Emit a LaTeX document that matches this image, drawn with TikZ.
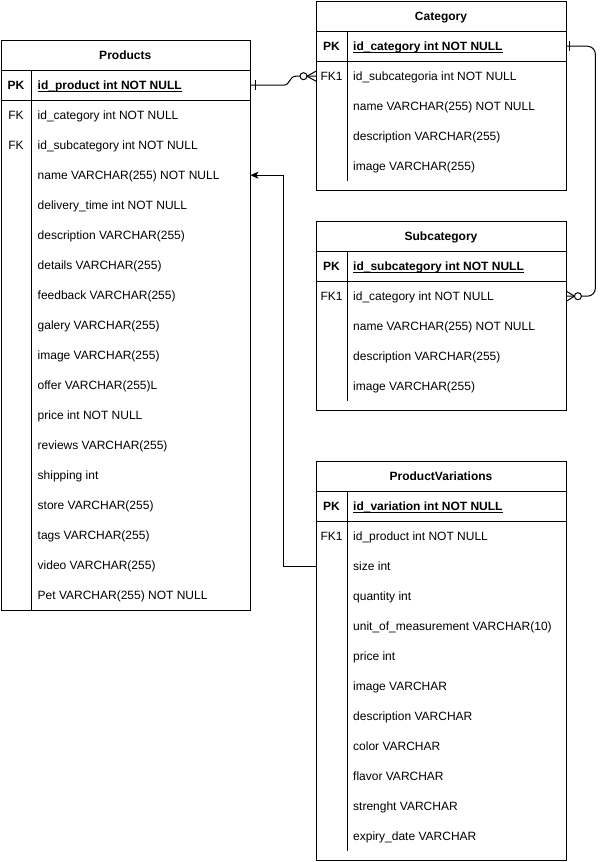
\documentclass[tikz,border=0pt]{standalone}
\usepackage{fontspec}
\setmainfont{Liberation Sans}
\usetikzlibrary{calc,arrows.meta}
\newcommand\erfont{\fontsize{12}{14}\selectfont}
\tikzset{
  tbl/.style={draw, line width=1pt, inner sep=0pt, anchor=north west},
  rowbox/.style={inner sep=0pt, minimum height=30pt, anchor=north west},
  fld/.style={anchor=base west, inner sep=0pt, font=\erfont},
  keyl/.style={anchor=base, inner sep=0pt, font=\erfont},
  ttl/.style={anchor=base, inner sep=0pt, font=\erfont\bfseries},
  conn/.style={line width=1pt},
}
% #1 id, #2 x0, #3 y0, #4 width, #5 height, #6 title, #7 pk text, #8 rows, #9 divider end
\newcommand\ertable[9]{%
  \node[tbl, minimum width=#4pt, minimum height=#5pt] (#1) at (#2,#3) {};
  \node[ttl] (#1-title) at (#2+#4/2,#3+19.3) {#6};
  \draw[conn] (#2,#3+30) -- ++(#4,0);
  \draw[conn] (#2,#3+60) -- ++(#4,0);
  \draw[conn] (#2+31,#3+30) -- (#2+31,#9);
  \node[rowbox, minimum width=#4pt] (#1-pk) at (#2,#3+30) {};
  \node[keyl] (#1-pkkey) at (#2+15.5,#3+49.3) {\bfseries PK};
  \node[fld] (#1-pktext) at (#2+37,#3+49.3) {\bfseries\underline{\smash{#7}}};
  \foreach \k/\t [count=\i] in {#8} {
    \node[rowbox, minimum width=#4pt] (#1-\i) at (#2,#3+30+30*\i) {};
    \node[keyl] (#1-\i-key) at (#2+15.5,#3+49.3+30*\i) {\k};
    \node[fld] (#1-\i-text) at (#2+37,#3+49.3+30*\i) {\t};
  }%
}
\begin{document}
\begin{tikzpicture}[x=1pt,y=-1pt]
\useasboundingbox (0,0) rectangle (606,862);
\fill[white] (0,0) rectangle (606,862);

\ertable{prod}{0.5}{40}{249.5}{570}{Products}{id\_product int NOT NULL}{%
  FK/id\_category int NOT NULL,
  FK/id\_subcategory int NOT NULL,
  /name VARCHAR(255) NOT NULL,
  /delivery\_time int NOT NULL,
  /description VARCHAR(255),
  /details VARCHAR(255),
  /feedback VARCHAR(255),
  /galery VARCHAR(255),
  /image VARCHAR(255),
  /offer VARCHAR(255)L,
  /price int NOT NULL,
  /reviews VARCHAR(255),
  /shipping int,
  /store VARCHAR(255),
  /tags VARCHAR(255),
  /video VARCHAR(255),
  /Pet VARCHAR(255) NOT NULL}{610}

\ertable{cat}{316}{1}{250}{189}{Category}{id\_category int NOT NULL}{%
  FK1/id\_subcategoria int NOT NULL,
  /name VARCHAR(255) NOT NULL,
  /description VARCHAR(255),
  /image VARCHAR(255)}{181}

\ertable{sub}{316}{221}{250}{189}{Subcategory}{id\_subcategory int NOT NULL}{%
  FK1/id\_category int NOT NULL,
  /name VARCHAR(255) NOT NULL,
  /description VARCHAR(255),
  /image VARCHAR(255)}{401}

\ertable{pv}{316}{461}{250}{399}{ProductVariations}{id\_variation int NOT NULL}{%
  FK1/id\_product int NOT NULL,
  /size int,
  /quantity int,
  /unit\_of\_measurement VARCHAR(10),
  /price int,
  /image VARCHAR,
  /description VARCHAR,
  /color VARCHAR,
  /flavor VARCHAR,
  /strenght VARCHAR,
  /expiry\_date VARCHAR}{851}

% Products (one) -> Category (zero or many)
\draw[conn] (prod-pk.east) -- ++(33,0) .. controls +(7,0) and +(-7,0) .. ($(cat-1.west)+(-20,0)$) -- (cat-1.west);
\draw[conn] ($(prod-pk.east)+(5,-5)$) -- ++(0,10);
\draw[conn, fill=white] ($(cat-1.west)+(-12.5,0)$) circle (3.5pt);
\draw[conn] ($(cat-1.west)+(-9,0)$) -- ($(cat-1.west)+(0,-5)$)
            ($(cat-1.west)+(-9,0)$) -- ($(cat-1.west)+(0,5)$);

% Category (one) -> Subcategory (zero or many)
\draw[conn, rounded corners=8pt] (cat-pk.east) -- ++(29,0) |- (sub-1.east);
\draw[conn] ($(cat-pk.east)+(3,-5)$) -- ++(0,10);
\draw[conn, fill=white] ($(sub-1.east)+(11.5,0)$) circle (3.5pt);
\draw[conn] ($(sub-1.east)+(8,0)$) -- ($(sub-1.east)+(0,-5)$)
            ($(sub-1.east)+(8,0)$) -- ($(sub-1.east)+(0,5)$);

% ProductVariations -> Products
\draw[conn, -{Stealth[length=8pt,width=7pt,inset=2pt]}] (pv-2.west) -- ++(-33,0) |- (prod-3.east);
\end{tikzpicture}
\end{document}
